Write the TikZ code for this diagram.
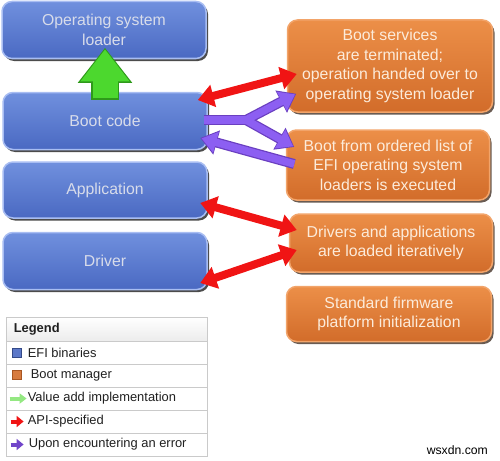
\documentclass[tikz,border=0pt]{standalone}
\usepackage{fontspec}
\setmainfont{Liberation Sans}
\usetikzlibrary{arrows.meta,calc,shadows}

\definecolor{bluetop}{HTML}{7090DE}
\definecolor{bluebot}{HTML}{4A69C2}
\definecolor{blueedge}{HTML}{A8BDF2}
\definecolor{bluetext}{HTML}{D8DCEA}
\definecolor{orgtop}{HTML}{EC8F48}
\definecolor{orgbot}{HTML}{D26C2A}
\definecolor{orgedge}{HTML}{F2A46A}
\definecolor{orgtext}{HTML}{FCEBDA}
\definecolor{apired}{HTML}{F01414}
\definecolor{errpurple}{HTML}{8C5FF2}
\definecolor{errdark}{HTML}{6A3FC0}
\definecolor{valgreen}{HTML}{4CD82E}
\definecolor{valgreendark}{HTML}{2E9A1A}
\definecolor{legline}{HTML}{CACACA}
\definecolor{legtext}{HTML}{202020}
\definecolor{leghead}{HTML}{ECECEC}

\tikzset{
  efibox/.style={rectangle, rounded corners=10pt, top color=bluetop, bottom color=bluebot,
    draw=blueedge, line width=1.5pt, text=bluetext, align=center,
    font=\fontsize{15.8}{19.5}\selectfont, minimum width=204pt,
    drop shadow={shadow xshift=2pt, shadow yshift=-2.5pt, fill=black, opacity=0.7}},
  mgrbox/.style={rectangle, rounded corners=10pt, top color=orgtop, bottom color=orgbot,
    draw=orgedge, line width=1.5pt, text=orgtext, align=center,
    font=\fontsize{15.8}{19.5}\selectfont, minimum width=204pt,
    drop shadow={shadow xshift=2pt, shadow yshift=-2.5pt, fill=black!80!orgbot, opacity=0.7}},
  apiarrow/.style={draw=apired, line width=8pt,
    {Triangle[length=16pt,width=22pt]}-{Triangle[length=16pt,width=22pt]}},
  errout/.style={draw=errdark, line width=10pt},
  errin/.style={draw=errpurple, line width=7.5pt},
  errtipout/.style={-{Triangle[length=17pt,width=24pt]}},
  errtipin/.style={-{Triangle[length=15pt,width=20.5pt]}, shorten >=1.3pt},
  legcell/.style={rectangle, draw=legline, line width=0.8pt, minimum width=201pt, inner sep=0pt},
  legtxt/.style={anchor=west, text=legtext, font=\fontsize{12.9}{14}\selectfont, inner sep=0pt},
}

\begin{document}
\begin{tikzpicture}[x=1pt,y=-1pt]
\useasboundingbox (0,0) rectangle (500,460);

% EFI binaries
\node[efibox, minimum height=57pt] (osl) at (104,30) {Operating system\\loader};
\node[efibox, minimum height=57pt] (boot) at (105,121) {Boot code};
\node[efibox, minimum height=56pt] (app) at (105,190) {Application};
\node[efibox, minimum height=57pt] (drv) at (105,261) {Driver};

% Boot manager
\node[mgrbox, minimum width=205pt, minimum height=92pt] (term) at (390,66)
  {Boot services\\are terminated;\\operation handed over to\\operating system loader};
\node[mgrbox, minimum width=203pt, minimum height=70pt] (list) at (388,165)
  {Boot from ordered list of\\EFI operating system\\loaders is executed};
\node[mgrbox, minimum width=203pt, minimum height=58pt] (load) at (391,243)
  {Drivers and applications\\are loaded iteratively};
\node[mgrbox, minimum width=205pt, minimum height=55pt] (init) at (389,314)
  {Standard firmware\\platform initialization};

% green value-add arrow
\draw[line width=28pt, draw=valgreendark, -{Triangle[length=35pt,width=52pt]}]
  ($(boot.north)+(0,8)$) -- ($(osl.south)+(1,-11.5)$);
\draw[line width=25pt, draw=valgreen, -{Triangle[length=32pt,width=47pt]}, shorten >=1.6pt]
  ($(boot.north)+(0,6.5)$) -- ($(osl.south)+(1,-11.5)$);

% red API arrows
\draw[apiarrow] ($(boot.east)+(-10,-21)$) -- ($(term.west)+(10,8)$);
\draw[apiarrow] ($(app.east)+(-7.5,13)$) -- ($(load.west)+(8,-13)$);
\draw[apiarrow] ($(drv.east)+(-7.5,22)$) -- ($(load.west)+(8,7)$);

% purple error arrows
\coordinate (ys) at ($(boot.east)+(-4,-1)$);
\coordinate (yj) at (246,120);
\coordinate (yk) at (252,120);
\coordinate (yu) at ($(term.south west)+(9.5,-19)$);
\coordinate (yd) at ($(list.west)+(8.5,-18)$);
\coordinate (rs) at ($(list.west)+(8.5,-1)$);
\coordinate (re) at ($(boot.east)+(-7.5,17)$);
\draw[errout] (ys) -- (yk);
\draw[errout, errtipout] (yj) -- (yu);
\draw[errout, errtipout] (yj) -- (yd);
\draw[errout, errtipout] (rs) -- (re);
\draw[errin] (ys) -- (yk);
\draw[errin, errtipin] (yj) -- (yu);
\draw[errin, errtipin] (yj) -- (yd);
\draw[errin, errtipin] (rs) -- (re);

% legend
\node[legcell, minimum height=24pt, top color=white, bottom color=leghead] (lh) at (106.5,329) {};
\node[legcell, minimum height=23pt] (l1) at (106.5,352.5) {};
\node[legcell, minimum height=23pt] (l2) at (106.5,375.5) {};
\node[legcell, minimum height=23pt] (l3) at (106.5,398.5) {};
\node[legcell, minimum height=23pt] (l4) at (106.5,421.5) {};
\node[legcell, minimum height=23pt] (l5) at (106.5,444.5) {};

\node[legtxt, font=\bfseries\fontsize{12.9}{14}\selectfont] (lht) at ($(lh.west)+(8,0)$) {Legend};
\node[rectangle, fill=bluebot!90!white, draw=bluebot!70!black, line width=0.3pt, minimum size=9pt, inner sep=0pt] (i1) at ($(l1.west)+(11.5,0)$) {};
\node[legtxt] (t1) at ($(l1.west)+(22,0)$) {EFI binaries};
\node[rectangle, fill=orgbot!90!white, draw=orgbot!80!black, line width=0.3pt, minimum size=9pt, inner sep=0pt] (i2) at ($(l2.west)+(11.5,-1)$) {};
\node[legtxt] (t2) at ($(l2.west)+(25,0)$) {Boot manager};
\draw[line width=4pt, draw=valgreen!60!white, -{Triangle[length=7pt,width=10pt]}] ($(l3.west)+(4,0)$) -- ($(l3.west)+(21,0)$);
\node[legtxt] (t3) at ($(l3.west)+(22,0)$) {Value add implementation};
\draw[line width=4pt, draw=apired, -{Triangle[length=7pt,width=11pt]}] ($(l4.west)+(5,0)$) -- ($(l4.west)+(18,0)$);
\node[legtxt] (t4) at ($(l4.west)+(22,0)$) {API-specified};
\draw[line width=4pt, draw=errdark!80!errpurple, -{Triangle[length=7pt,width=11pt]}] ($(l5.west)+(5,0)$) -- ($(l5.west)+(18,0)$);
\node[legtxt] (t5) at ($(l5.west)+(23,0)$) {Upon encountering an error};

% watermark
\node[anchor=east, inner sep=0pt, font=\fontsize{12.2}{14}\selectfont, text=black] (wm) at (488,450) {wsxdn.com};
\end{tikzpicture}
\end{document}
